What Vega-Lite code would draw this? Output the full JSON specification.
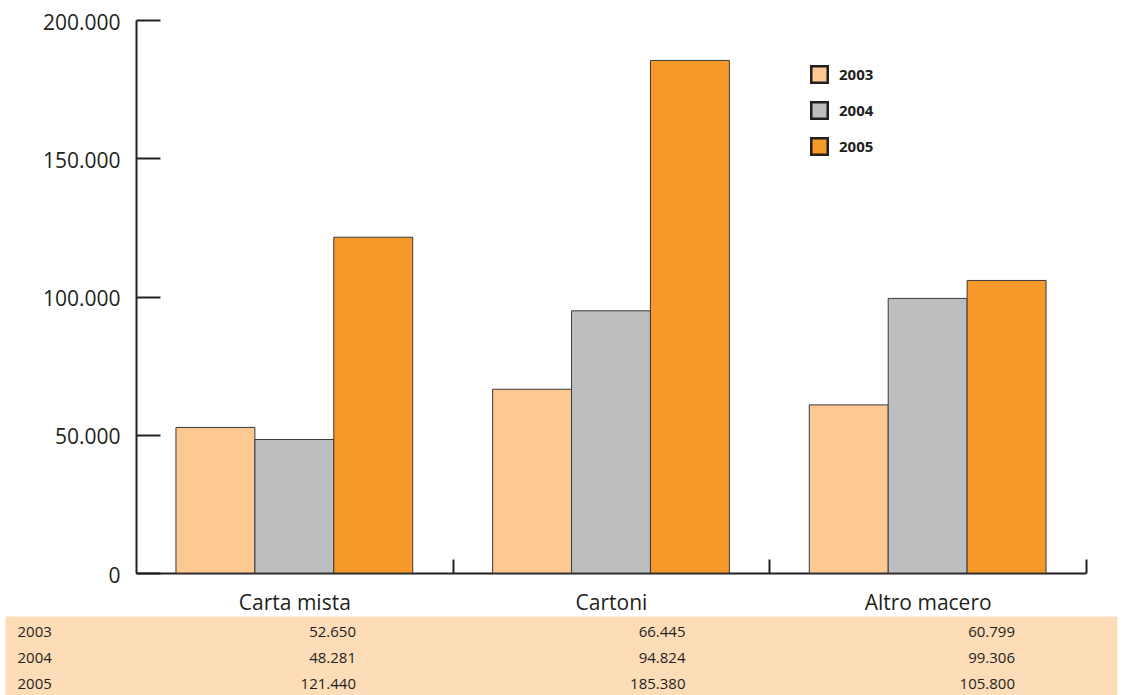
{
  "$schema": "https://vega.github.io/schema/vega-lite/v6.json",
  "autosize": "none",
  "width": 950,
  "height": 553,
  "padding": {"left": 136, "top": 20, "right": 45, "bottom": 122},
  "background": "#ffffff",
  "config": {
    "font": "Open Sans",
    "view": {"stroke": null},
    "locale": {
      "number": {"decimal": ",", "thousands": ".", "grouping": [3], "currency": ["€", ""]}
    }
  },
  "datasets": {
    "macero": [
      {"categoria": "Carta mista", "anno": "2003", "tonnellate": 52650},
      {"categoria": "Carta mista", "anno": "2004", "tonnellate": 48281},
      {"categoria": "Carta mista", "anno": "2005", "tonnellate": 121440},
      {"categoria": "Cartoni", "anno": "2003", "tonnellate": 66445},
      {"categoria": "Cartoni", "anno": "2004", "tonnellate": 94824},
      {"categoria": "Cartoni", "anno": "2005", "tonnellate": 185380},
      {"categoria": "Altro macero", "anno": "2003", "tonnellate": 60799},
      {"categoria": "Altro macero", "anno": "2004", "tonnellate": 99306},
      {"categoria": "Altro macero", "anno": "2005", "tonnellate": 105800}
    ]
  },
  "data": {"name": "macero"},
  "layer": [
    {
      "mark": {"type": "bar", "stroke": "#3a3a3a", "strokeWidth": 1},
      "encoding": {
        "x": {
          "field": "categoria",
          "type": "nominal",
          "sort": ["Carta mista", "Cartoni", "Altro macero"],
          "scale": {"paddingInner": 0.2524, "paddingOuter": 0.1262},
          "axis": {
            "orient": "bottom",
            "title": null,
            "labelAngle": 0,
            "labelFontSize": 21,
            "labelColor": "#231F20",
            "labelPadding": 33,
            "domainColor": "#231F20",
            "domainWidth": 2,
            "tickColor": "#231F20",
            "tickWidth": 2,
            "tickSize": -14,
            "tickOffset": 158.33,
            "labelOffset": -158.33
          }
        },
        "xOffset": {
          "field": "anno",
          "type": "nominal",
          "scale": {"paddingInner": 0, "paddingOuter": 0}
        },
        "y": {
          "field": "tonnellate",
          "type": "quantitative",
          "scale": {"domain": [0, 200000], "nice": false},
          "axis": {
            "orient": "left",
            "title": null,
            "grid": false,
            "values": [0, 50000, 100000, 150000, 200000],
            "format": ",d",
            "labelFontSize": 21,
            "labelColor": "#231F20",
            "labelPadding": 40,
            "labelOffset": 3,
            "domainColor": "#231F20",
            "domainWidth": 2,
            "tickColor": "#231F20",
            "tickWidth": 2,
            "tickSize": -24
          }
        },
        "color": {
          "field": "anno",
          "type": "nominal",
          "scale": {"domain": ["2003", "2004", "2005"], "range": ["#FDC891", "#BCBEC0", "#F7992A"]},
          "legend": {
            "title": null,
            "orient": "none",
            "legendX": 674,
            "legendY": 45,
            "symbolType": "square",
            "symbolSize": 272,
            "symbolStrokeColor": "#231F20",
            "symbolStrokeWidth": 2.5,
            "symbolOpacity": 1,
            "labelFontSize": 15,
            "labelFontWeight": "bold",
            "labelColor": "#231F20",
            "labelOffset": 10,
            "rowPadding": 9
          }
        }
      }
    },
    {
      "mark": {"type": "rect", "fill": "#FDDCB8", "stroke": "#FDDCB8", "strokeWidth": 1},
      "encoding": {
        "x": {
          "field": "categoria",
          "type": "nominal",
          "sort": ["Carta mista", "Cartoni", "Altro macero"],
          "scale": {"range": [-130, 981], "paddingInner": 0, "paddingOuter": 0},
          "axis": null
        },
        "y": {
          "field": "anno",
          "type": "nominal",
          "scale": {"range": [597, 675], "paddingInner": 0, "paddingOuter": 0},
          "axis": {
            "orient": "left",
            "title": null,
            "domain": false,
            "ticks": false,
            "tickSize": 0,
            "grid": false,
            "labelAlign": "left",
            "labelBaseline": "middle",
            "labelPadding": 119,
            "labelOffset": 2,
            "labelFontSize": 15,
            "labelColor": "#231F20"
          }
        }
      }
    },
    {
      "mark": {"type": "text", "align": "right", "baseline": "middle", "fontSize": 15, "color": "#231F20"},
      "encoding": {
        "x": {
          "field": "categoria",
          "type": "nominal",
          "sort": ["Carta mista", "Cartoni", "Altro macero"],
          "scale": {"type": "point", "range": [220, 879], "padding": 0},
          "axis": null
        },
        "y": {
          "field": "anno",
          "type": "nominal",
          "scale": {"range": [599, 677], "paddingInner": 0, "paddingOuter": 0},
          "axis": null
        },
        "text": {"field": "tonnellate", "type": "quantitative", "format": ",d"}
      }
    }
  ],
  "resolve": {"scale": {"x": "independent", "y": "independent"}}
}
